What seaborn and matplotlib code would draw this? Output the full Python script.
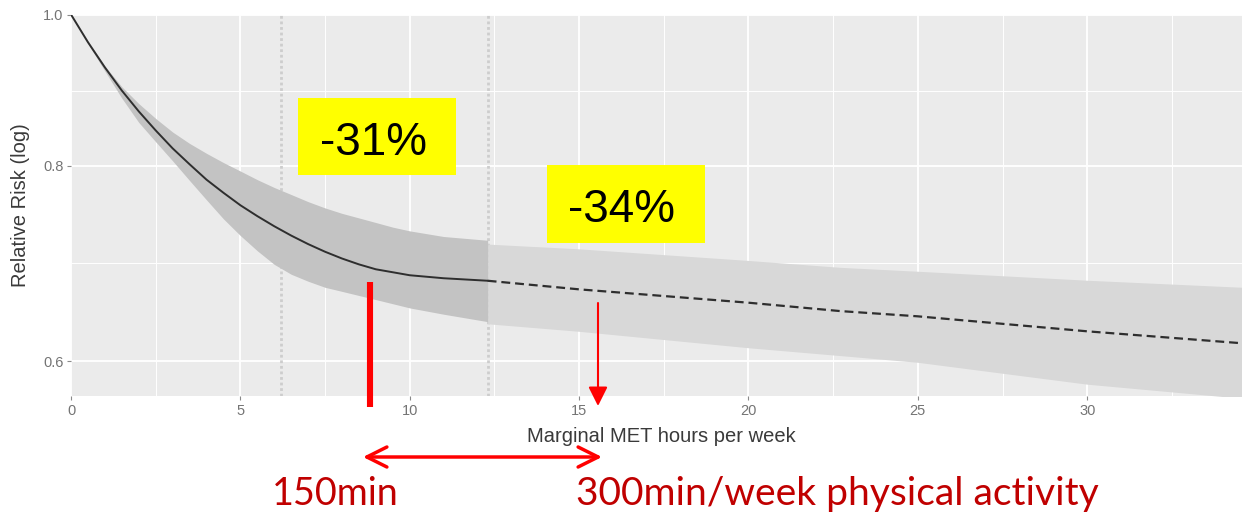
import numpy as np
import pandas as pd
import matplotlib
matplotlib.use("Agg")
import matplotlib.pyplot as plt
from matplotlib.patches import Rectangle, FancyArrowPatch
from matplotlib.ticker import FixedLocator, NullFormatter
import seaborn as sns

# ---------------- data ----------------
met_solid = [0, 0.5, 1, 1.5, 2, 2.5, 3, 3.5, 4, 4.5, 5, 5.5, 6, 6.5, 7, 7.5,
             8, 8.5, 9, 9.5, 10, 11, 12.3]
rr_solid = [1.000, 0.960, 0.925, 0.894, 0.867, 0.843, 0.821, 0.802, 0.784, 0.769,
            0.755, 0.743, 0.732, 0.722, 0.713, 0.705, 0.698, 0.692, 0.687, 0.684,
            0.681, 0.678, 0.6755]
upper_solid = [1.000, 0.962, 0.927, 0.899, 0.877, 0.858, 0.841, 0.827, 0.815, 0.804,
               0.794, 0.784, 0.775, 0.767, 0.759, 0.752, 0.746, 0.741, 0.736, 0.731,
               0.727, 0.721, 0.717]
lower_solid = [1.000, 0.958, 0.920, 0.884, 0.853, 0.829, 0.806, 0.783, 0.761, 0.740,
               0.722, 0.706, 0.692, 0.682, 0.675, 0.669, 0.665, 0.661, 0.657, 0.653,
               0.649, 0.643, 0.636]

met_dashed = [12.3, 15, 20, 22.7, 25, 30, 34.6]
rr_dashed = [0.6755, 0.667, 0.654, 0.646, 0.641, 0.627, 0.616]
upper_dashed = [0.713, 0.708, 0.696, 0.689, 0.685, 0.676, 0.669]
lower_dashed = [0.634, 0.627, 0.612, 0.605, 0.599, 0.580, 0.568]

ref_lines = [6.2, 12.3]
x_ticks = [0, 5, 10, 15, 20, 25, 30]
x_minor = [2.5, 7.5, 12.5, 17.5, 22.5, 27.5, 32.5]
y_ticks = [0.6, 0.8, 1.0]
y_tick_labels = ["0.6", "0.8", "1.0"]
y_minor = [0.894, 0.693]

box_labels = ["-31%", "-34%"]
red_labels = ["150min", "300min/week physical activity"]
x_title = "Marginal MET hours per week"
y_title = "Relative Risk (log)"

# ---------------- style ----------------
sns.set_style("darkgrid", {"axes.facecolor": "#EBEBEB", "grid.color": "white",
                           "axes.edgecolor": "#EBEBEB"})
plt.rcParams["font.family"] = ["Liberation Sans", "DejaVu Sans"]

W, H = 1242, 512
fig = plt.figure(figsize=(W / 100, H / 100), dpi=100)
fig.patch.set_facecolor("white")
ax = fig.add_axes([71 / W, 1 - 396 / H, (W - 71) / W, (396 - 14.5) / H])

def fp(x, y):
    return (x / W, 1 - y / H)

df_solid = pd.DataFrame({"met": met_solid, "rr": rr_solid,
                         "lo": lower_solid, "hi": upper_solid})
df_dash = pd.DataFrame({"met": met_dashed, "rr": rr_dashed,
                        "lo": lower_dashed, "hi": upper_dashed})

ax.set_yscale("log")

for xv in ref_lines:
    ax.axvline(xv, color="#cdcdcd", lw=2.0, ls=(0, (1, 1)), zorder=0.8)

ax.fill_between(df_solid["met"], df_solid["lo"], df_solid["hi"],
                color="#c3c3c3", lw=0, zorder=1.2)
ax.fill_between(df_dash["met"], df_dash["lo"], df_dash["hi"],
                color="#d8d8d8", lw=0, zorder=1.1)

sns.lineplot(data=df_solid, x="met", y="rr", ax=ax, color="#2e2e2e",
             lw=1.4, zorder=3)
sns.lineplot(data=df_dash, x="met", y="rr", ax=ax, color="#2e2e2e",
             lw=1.6, linestyle=(0, (4, 2.2)), zorder=3)

ax.set_xlim(0, 34.57)
ax.set_ylim(0.57, 1.0)
ax.set_xticks(x_ticks)
ax.set_xticklabels([str(t) for t in x_ticks])
ax.xaxis.set_minor_locator(FixedLocator(x_minor))
ax.yaxis.set_major_locator(FixedLocator(y_ticks))
ax.set_yticklabels(y_tick_labels)
ax.yaxis.set_minor_locator(FixedLocator(y_minor))
ax.yaxis.set_minor_formatter(NullFormatter())
ax.xaxis.set_minor_formatter(NullFormatter())

ax.grid(which="major", color="white", lw=1.3)
ax.grid(which="minor", color="white", lw=0.7)
ax.set_axisbelow(True)
for s in ax.spines.values():
    s.set_visible(False)

ax.tick_params(which="major", length=3, width=0.8, color="#8a8a8a",
               labelcolor="#747474", labelsize=10.5, pad=2.5,
               bottom=True, left=True)
ax.tick_params(which="minor", length=0)

ax.set_xlabel(x_title, fontsize=14.5, color="#3a3a3a")
ax.set_ylabel(y_title, fontsize=14.5, color="#3a3a3a")
ax.xaxis.label.set_va("center")
ax.yaxis.label.set_va("center")
ax.xaxis.set_label_coords((661 - 71) / (W - 71), (396 - 436) / 381.5)
ax.yaxis.set_label_coords((21 - 71) / (W - 71), (396 - 205) / 381.5)

# ---------------- annotations ----------------
boxes = [(298, 98, 456, 175, 373, 155), (547, 165, 705, 243, 621.5, 222)]
for (x0, y0, x1, y1, tx, ty), lab in zip(boxes, box_labels):
    fig.patches.append(Rectangle(fp(x0, y1), (x1 - x0) / W, (y1 - y0) / H,
                                 transform=fig.transFigure, facecolor="#FFFF00",
                                 edgecolor="none", zorder=5))
    fig.text(*fp(tx, ty), lab, fontsize=33, color="black", ha="center",
             va="baseline", zorder=6)

# thick red marker line
fig.lines.append(plt.Line2D([370 / W, 370 / W], [1 - 282 / H, 1 - 407 / H],
                            transform=fig.transFigure, color="#FF0000",
                            lw=4.4, solid_capstyle="butt", zorder=6))
# thin red arrow
fig.add_artist(FancyArrowPatch(
    fp(598, 303), fp(598, 406), transform=fig.transFigure,
    arrowstyle="-|>", mutation_scale=29, color="#FF0000", lw=1.5,
    shrinkA=0, shrinkB=0, zorder=6))
# double-headed arrow
fig.add_artist(FancyArrowPatch(
    fp(363, 457), fp(602, 457), transform=fig.transFigure,
    arrowstyle="<->", mutation_scale=36, color="#FF0000", lw=2.5,
    shrinkA=0, shrinkB=0, zorder=6))

fig.text(*fp(272, 505), red_labels[0], fontsize=27.2, color="#C00000",
         ha="left", va="baseline", family=["Lato", "DejaVu Sans"])
fig.text(*fp(576, 505), red_labels[1], fontsize=28.1, color="#C00000",
         ha="left", va="baseline", family=["Lato", "DejaVu Sans"])

fig.savefig("out.png", dpi=100, facecolor="white")
